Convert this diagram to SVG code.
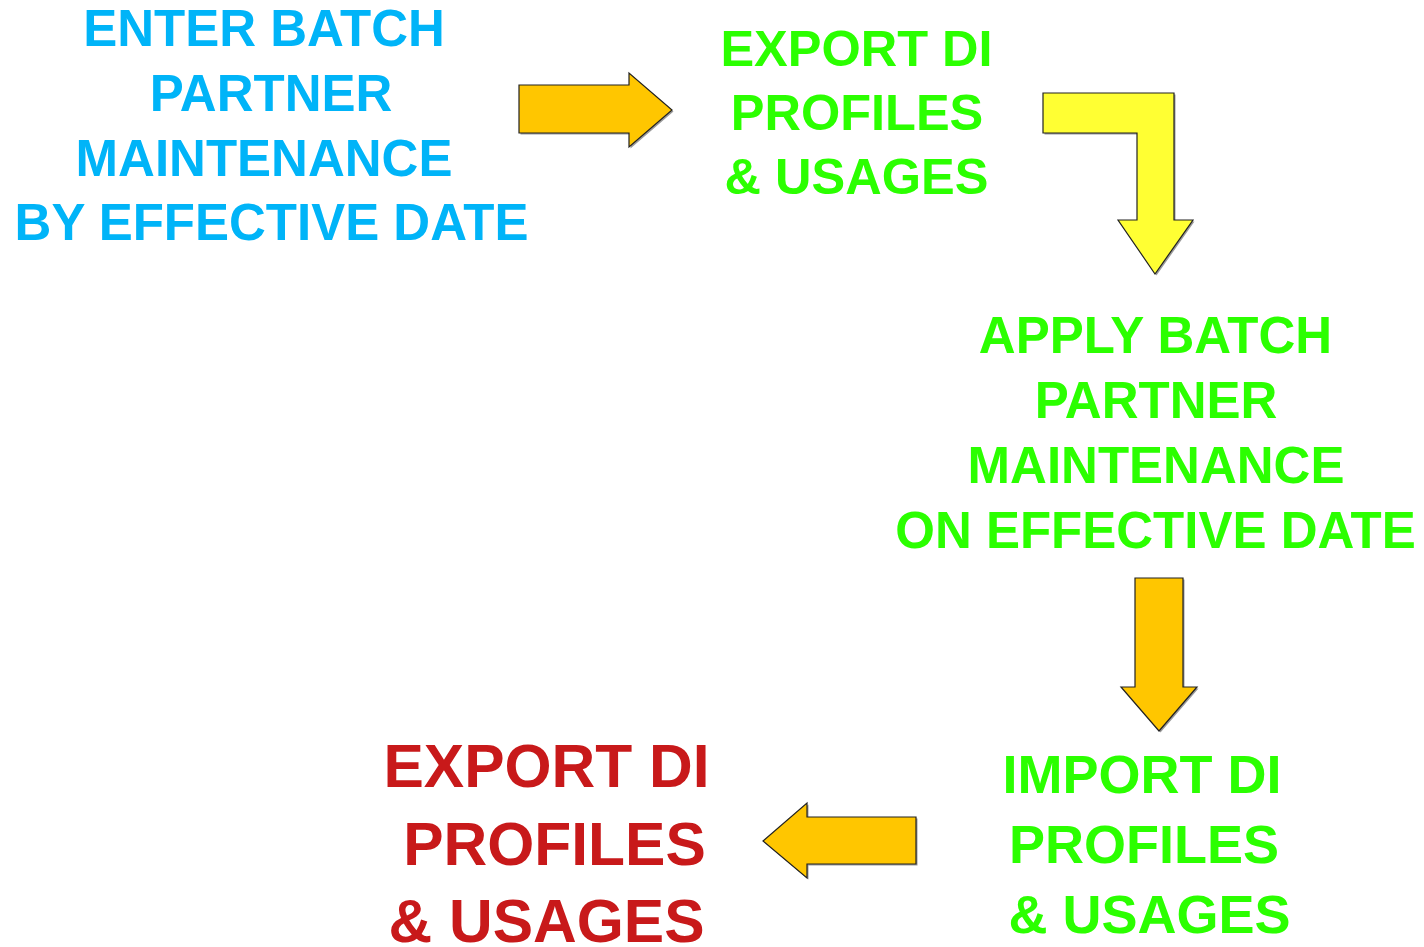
<svg xmlns="http://www.w3.org/2000/svg" width="1424" height="947" viewBox="0 0 1424 947">
<style>
text{font-family:"Liberation Sans",Arial,sans-serif;font-weight:bold;text-anchor:middle}
.blue{fill:#00B4F8}
.green{fill:#2BFF00}
.red{fill:#C8191A}
.arr{stroke:#222;stroke-width:1.2;stroke-linejoin:miter}
.sh{fill:#9a9a9a}
.or{fill:#FFC600}
.ye{fill:#FFFF33}
</style>
<rect width="1424" height="947" fill="#fff"/>
<g id="connectors">
<polygon class="sh" transform="translate(1.5,1.5)" points="519,85 629,85 629,73 672,110 629,147 629,133 519,133"/>
<polygon class="arr or" points="519,85 629,85 629,73 672,110 629,147 629,133 519,133"/>
<polygon class="sh" transform="translate(1.5,1.5)" points="1043,93 1174,93 1174,220 1193,220 1155,274 1118,220 1137,220 1137,133 1043,133"/>
<polygon class="arr ye" points="1043,93 1174,93 1174,220 1193,220 1155,274 1118,220 1137,220 1137,133 1043,133"/>
<polygon class="sh" transform="translate(1.5,1.5)" points="1135,578 1183,578 1183,687 1197,687 1159,731 1121,687 1135,687"/>
<polygon class="arr or" points="1135,578 1183,578 1183,687 1197,687 1159,731 1121,687 1135,687"/>
<polygon class="sh" transform="translate(1.5,1.5)" points="916,817 807,817 807,803 763,841 807,878 807,864 916,864"/>
<polygon class="arr or" points="916,817 807,817 807,803 763,841 807,878 807,864 916,864"/>
</g>
<g id="enter-batch" class="blue" font-size="51">
<text x="264" y="46">ENTER BATCH</text>
<text x="271" y="111">PARTNER</text>
<text x="264" y="176">MAINTENANCE</text>
<text x="271.5" y="240">BY EFFECTIVE DATE</text>
</g>
<g id="export-di-1" class="green" font-size="50.5">
<text x="856.5" y="66">EXPORT DI</text>
<text x="857" y="130">PROFILES</text>
<text x="856.5" y="194">&amp; USAGES</text>
</g>
<g id="apply-batch" class="green" font-size="51">
<text x="1155.5" y="353">APPLY BATCH</text>
<text x="1156" y="418">PARTNER</text>
<text x="1156" y="483">MAINTENANCE</text>
<text x="1155.5" y="548">ON EFFECTIVE DATE</text>
</g>
<g id="import-di" class="green" font-size="54">
<text x="1142" y="793">IMPORT DI</text>
<text x="1144" y="863">PROFILES</text>
<text x="1149.5" y="933">&amp; USAGES</text>
</g>
<g id="export-di-2" class="red" font-size="60.5">
<text x="546.5" y="787">EXPORT DI</text>
<text x="554.5" y="865">PROFILES</text>
<text x="546.5" y="942">&amp; USAGES</text>
</g>
</svg>
